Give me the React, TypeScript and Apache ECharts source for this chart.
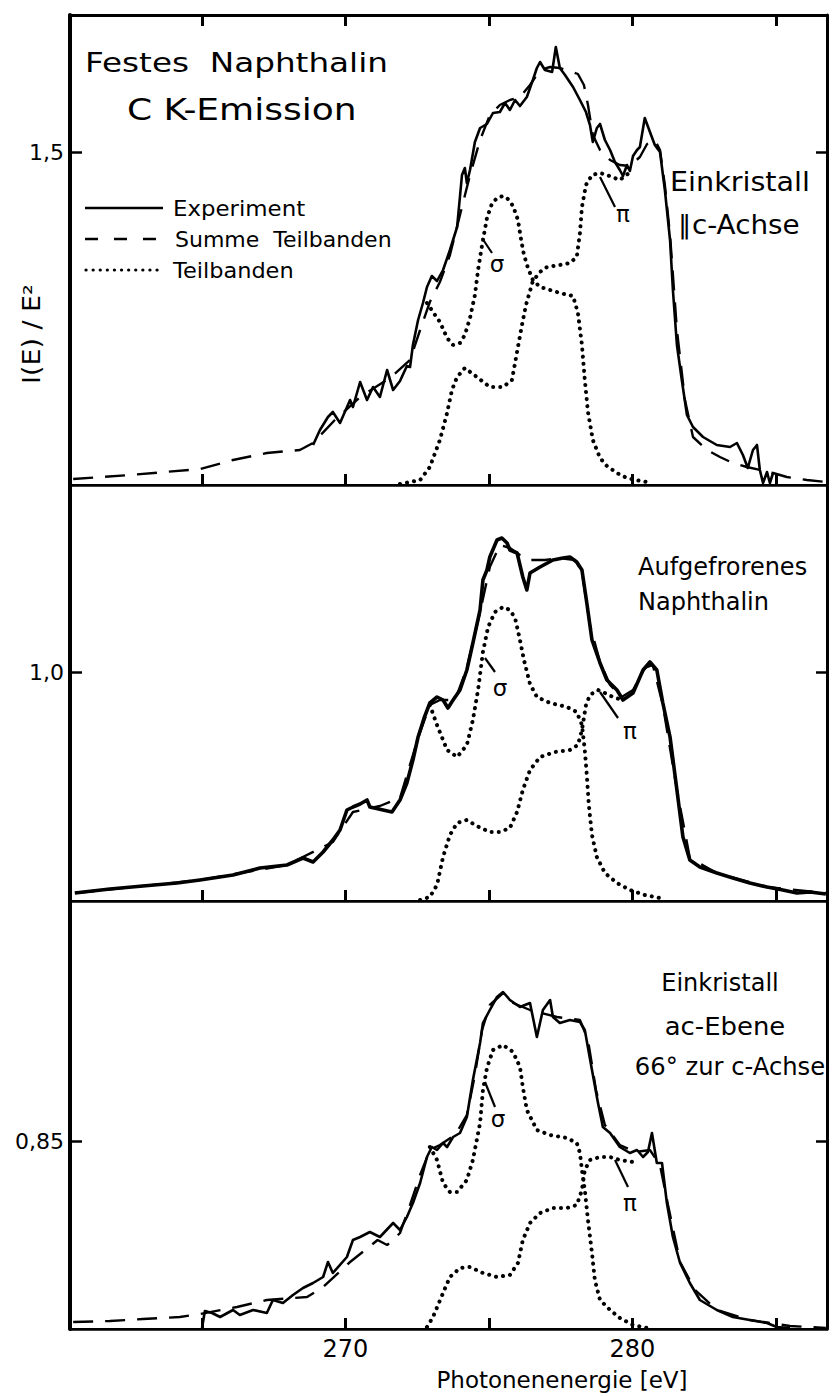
import React, { useEffect, useRef } from "react";
import * as echarts from "echarts";

// ---------- axes ----------
const E_MIN = 260.4;
const E_MAX = 286.78;
const X_TICKS = [265, 270, 275, 280, 285];
const X_LABELS = [270, 280];
const Y_TICK_VALUES = [1.5, 1.0, 0.85];
const Y_TICK_TEXTS = ["1,5", "1,0", "0,85"];
const Y_MIN = [1.167, 0.771, 0.662];
const Y_MAX = [1.637, 1.187, 1.09];

// ---------- panel 1: Einkristall || c-Achse ----------
const topExperiment = [
  [268.87,1.207],[269.11,1.222],[269.39,1.235],[269.56,1.240],[269.81,1.229],[270.16,1.252],[270.26,1.245],[270.51,1.270],[270.75,1.252],[270.96,1.265],[271.20,1.255],[271.45,1.282],[271.66,1.262],[271.90,1.271],[272.14,1.286],[272.25,1.285],[272.35,1.307],[272.53,1.332],[272.70,1.349],[272.84,1.365],[273.01,1.376],[273.19,1.371],[273.40,1.382],[273.64,1.402],[273.89,1.425],[274.06,1.477],[274.16,1.484],[274.23,1.469],[274.34,1.482],[274.51,1.510],[274.69,1.524],[274.93,1.528],[275.14,1.539],[275.38,1.540],[275.56,1.549],[275.73,1.542],[275.91,1.552],[276.08,1.546],[276.32,1.555],[276.53,1.572],[276.67,1.584],[276.78,1.590],[276.95,1.582],[277.20,1.580],[277.33,1.605],[277.47,1.584],[277.65,1.577],[277.93,1.565],[278.17,1.552],[278.38,1.540],[278.52,1.527],[278.62,1.510],[278.76,1.524],[278.87,1.528],[279.04,1.512],[279.22,1.502],[279.39,1.490],[279.56,1.482],[279.67,1.476],[279.81,1.487],[279.91,1.481],[280.02,1.496],[280.16,1.502],[280.26,1.505],[280.43,1.534],[280.61,1.520],[280.78,1.507],[280.96,1.500],[281.13,1.462],[281.31,1.412],[281.41,1.362],[281.55,1.307],[281.72,1.272],[281.90,1.237],[282.11,1.225],[282.46,1.215],[282.94,1.207],[283.40,1.205],[283.64,1.209],[283.85,1.197],[284.02,1.184],[284.20,1.202],[284.34,1.207],[284.44,1.182],[284.55,1.169],[284.69,1.180],[284.79,1.169],[284.90,1.179]
];
const topSum = [
  [260.51,1.173],[262.49,1.177],[264.93,1.183],[266.08,1.192],[267.26,1.199],[268.41,1.202],[268.87,1.209],[269.63,1.232],[270.51,1.255],[271.55,1.274],[272.25,1.292],[272.60,1.322],[272.94,1.350],[273.29,1.370],[273.64,1.397],[273.99,1.437],[274.34,1.477],[274.69,1.512],[275.03,1.537],[275.38,1.547],[275.73,1.552],[276.08,1.555],[276.43,1.567],[276.78,1.582],[277.13,1.585],[277.47,1.584],[277.82,1.581],[278.10,1.578],[278.31,1.567],[278.45,1.547],[278.62,1.517],[278.87,1.502],[279.22,1.492],[279.56,1.487],[279.91,1.486],[280.26,1.495],[280.51,1.508],[280.78,1.512],[280.96,1.502],[281.13,1.467],[281.31,1.417],[281.55,1.322],[281.83,1.252],[282.11,1.215],[282.60,1.202],[283.05,1.195],[283.50,1.189],[283.99,1.185],[284.90,1.179],[285.38,1.175],[286.08,1.172],[286.74,1.170]
];
const topSigma = [
  [272.84,1.349],[273.05,1.340],[273.29,1.330],[273.54,1.314],[273.75,1.307],[273.99,1.309],[274.16,1.317],[274.34,1.334],[274.51,1.357],[274.62,1.382],[274.76,1.407],[274.93,1.434],[275.10,1.448],[275.28,1.454],[275.49,1.456],[275.66,1.453],[275.84,1.446],[276.01,1.432],[276.11,1.414],[276.22,1.397],[276.36,1.384],[276.53,1.372],[276.78,1.365],[277.13,1.362],[277.47,1.359],[277.93,1.356],[278.10,1.339],[278.24,1.307],[278.34,1.272],[278.45,1.240],[278.62,1.212],[278.87,1.194],[279.11,1.186],[279.46,1.179],[279.81,1.174],[280.09,1.172],[280.51,1.170]
];
const topPi = [
  [271.90,1.168],[272.25,1.170],[272.60,1.172],[272.94,1.185],[273.29,1.212],[273.54,1.239],[273.71,1.262],[273.89,1.275],[274.16,1.284],[274.58,1.275],[275.03,1.265],[275.49,1.265],[275.80,1.272],[275.91,1.289],[276.01,1.305],[276.15,1.327],[276.29,1.347],[276.53,1.371],[276.78,1.380],[277.02,1.385],[277.47,1.387],[277.82,1.389],[278.06,1.395],[278.17,1.419],[278.24,1.445],[278.38,1.467],[278.59,1.477],[278.87,1.479],[279.11,1.477],[279.56,1.472],[280.02,1.482]
];

// ---------- panel 2: Aufgefrorenes Naphthalin ----------
const midExperiment = [
  [260.57,0.779],[261.79,0.783],[262.94,0.786],[264.13,0.789],[264.93,0.792],[266.08,0.797],[267.02,0.804],[267.96,0.807],[268.52,0.814],[268.87,0.810],[269.22,0.820],[269.56,0.832],[269.81,0.842],[270.05,0.862],[270.26,0.865],[270.51,0.868],[270.75,0.872],[270.85,0.865],[271.31,0.862],[271.62,0.860],[271.90,0.872],[272.14,0.889],[272.35,0.912],[272.53,0.935],[272.74,0.954],[272.94,0.969],[273.19,0.975],[273.40,0.972],[273.57,0.964],[273.75,0.972],[273.99,0.982],[274.23,1.002],[274.44,1.029],[274.69,1.062],[274.79,1.092],[274.93,1.102],[275.03,1.115],[275.28,1.132],[275.45,1.134],[275.63,1.129],[275.73,1.122],[275.98,1.119],[276.18,1.095],[276.32,1.082],[276.43,1.099],[276.78,1.105],[277.23,1.112],[277.58,1.114],[277.82,1.115],[278.06,1.110],[278.24,1.102],[278.41,1.069],[278.59,1.032],[278.87,1.009],[279.11,0.992],[279.46,0.982],[279.67,0.972],[280.02,0.979],[280.37,1.002],[280.61,1.010],[280.85,1.002],[281.06,0.969],[281.31,0.935],[281.55,0.882],[281.76,0.835],[282.00,0.812],[282.35,0.805],[282.94,0.799],[283.50,0.794],[284.09,0.789],[284.69,0.785],[285.24,0.782],[285.73,0.779],[286.19,0.780],[286.74,0.778]
];
const midSum = [
  [260.57,0.779],[264.93,0.792],[267.96,0.807],[269.56,0.830],[270.26,0.860],[271.20,0.866],[271.90,0.874],[272.53,0.934],[272.94,0.967],[273.29,0.972],[273.82,0.972],[274.23,1.004],[274.69,1.060],[275.03,1.105],[275.38,1.127],[275.73,1.124],[276.08,1.117],[276.43,1.112],[276.95,1.112],[277.47,1.114],[278.00,1.112],[278.24,1.100],[278.52,1.047],[278.87,1.010],[279.22,0.987],[279.63,0.975],[280.02,0.982],[280.43,1.004],[280.71,1.007],[281.06,0.967],[281.55,0.882],[282.00,0.814],[282.94,0.799],[284.69,0.785],[286.74,0.779]
];
const midSigma = [
  [272.94,0.967],[273.19,0.947],[273.54,0.922],[273.89,0.915],[274.23,0.927],[274.44,0.952],[274.62,0.982],[274.79,1.020],[274.97,1.045],[275.21,1.060],[275.49,1.065],[275.73,1.062],[275.91,1.054],[276.08,1.032],[276.22,1.012],[276.43,0.988],[276.67,0.975],[277.13,0.969],[277.72,0.965],[278.06,0.960],[278.24,0.947],[278.34,0.922],[278.41,0.897],[278.48,0.867],[278.59,0.837],[278.76,0.815],[279.04,0.799],[279.46,0.789],[279.91,0.782],[280.43,0.777],[280.96,0.774]
];
const midPi = [
  [272.60,0.772],[272.94,0.775],[273.19,0.787],[273.40,0.815],[273.64,0.837],[273.89,0.849],[274.23,0.852],[274.58,0.846],[275.03,0.840],[275.38,0.840],[275.73,0.844],[275.98,0.860],[276.18,0.882],[276.43,0.902],[276.78,0.915],[277.30,0.920],[277.82,0.922],[278.10,0.927],[278.24,0.942],[278.38,0.967],[278.52,0.977],[278.80,0.982],[279.04,0.979],[279.32,0.975],[279.63,0.972]
];

// ---------- panel 3: Einkristall ac-Ebene ----------
const botExperiment = [
  [265.00,0.663],[265.10,0.680],[265.35,0.678],[265.63,0.674],[266.08,0.681],[266.32,0.676],[266.78,0.681],[267.26,0.678],[267.47,0.691],[267.82,0.688],[268.17,0.696],[268.52,0.703],[268.87,0.708],[269.22,0.714],[269.39,0.729],[269.56,0.718],[270.05,0.734],[270.26,0.751],[270.51,0.754],[270.85,0.759],[271.20,0.754],[271.66,0.768],[271.90,0.761],[272.14,0.774],[272.35,0.788],[272.60,0.808],[272.84,0.834],[273.01,0.844],[273.19,0.841],[273.40,0.848],[273.54,0.844],[273.75,0.854],[273.99,0.858],[274.23,0.874],[274.44,0.911],[274.69,0.948],[274.79,0.968],[275.03,0.981],[275.28,0.994],[275.49,0.999],[275.73,0.991],[276.08,0.984],[276.43,0.988],[276.67,0.954],[276.88,0.981],[277.13,0.991],[277.23,0.974],[277.47,0.968],[277.82,0.971],[278.17,0.969],[278.34,0.961],[278.59,0.921],[278.80,0.888],[278.97,0.864],[279.22,0.858],[279.56,0.844],[279.91,0.838],[280.16,0.841],[280.37,0.834],[280.54,0.839],[280.68,0.858],[280.85,0.828],[281.03,0.828],[281.20,0.788],[281.41,0.754],[281.66,0.728],[282.00,0.708],[282.35,0.691],[282.94,0.681],[283.50,0.674],[284.09,0.671],[284.69,0.668],[285.03,0.664],[285.49,0.663]
];
const botSum = [
  [260.51,0.669],[261.79,0.670],[262.94,0.672],[264.23,0.674],[264.93,0.677],[266.22,0.684],[267.26,0.691],[268.17,0.693],[268.66,0.694],[269.22,0.704],[270.16,0.729],[271.12,0.751],[271.45,0.746],[271.66,0.751],[271.90,0.758],[272.25,0.786],[272.60,0.816],[272.94,0.841],[273.29,0.846],[273.82,0.856],[274.23,0.876],[274.51,0.916],[274.76,0.961],[275.03,0.986],[275.49,0.998],[275.84,0.988],[276.43,0.981],[277.37,0.974],[278.17,0.971],[278.45,0.951],[278.73,0.901],[279.04,0.866],[279.56,0.846],[280.09,0.839],[280.61,0.841],[280.96,0.826],[281.24,0.786],[281.66,0.729],[282.18,0.701],[282.94,0.681],[284.09,0.671],[285.49,0.665],[286.74,0.663]
];
const botSigma = [
  [272.94,0.844],[273.19,0.831],[273.40,0.808],[273.64,0.799],[273.89,0.799],[274.23,0.811],[274.44,0.831],[274.69,0.868],[274.79,0.901],[274.93,0.923],[275.14,0.941],[275.49,0.946],[275.84,0.939],[276.08,0.924],[276.18,0.904],[276.32,0.881],[276.67,0.861],[277.13,0.856],[277.72,0.853],[278.06,0.848],[278.17,0.838],[278.24,0.821],[278.34,0.801],[278.45,0.771],[278.59,0.738],[278.69,0.711],[278.87,0.691],[279.22,0.681],[279.56,0.673],[280.02,0.666],[280.51,0.663]
];
const botPi = [
  [272.84,0.664],[273.05,0.674],[273.40,0.698],[273.64,0.714],[273.99,0.723],[274.34,0.724],[274.79,0.718],[275.28,0.714],[275.73,0.716],[276.01,0.728],[276.18,0.751],[276.43,0.768],[276.78,0.778],[277.23,0.783],[277.72,0.783],[278.06,0.786],[278.24,0.801],[278.34,0.821],[278.52,0.831],[278.87,0.834],[279.22,0.834],[279.56,0.831],[280.02,0.829]
];

const PANELS = [
  { exp: topExperiment, sum: topSum, sigma: topSigma, pi: topPi, expWidth: 2.6 },
  { exp: midExperiment, sum: midSum, sigma: midSigma, pi: midPi, expWidth: 3.6 },
  { exp: botExperiment, sum: botSum, sigma: botSigma, pi: botPi, expWidth: 2.6 },
];

// layout (pixels)
const GRID_LEFT = 70;
const GRID_WIDTH = 757;
const GRID_TOPS = [15, 485, 901];
const GRID_HEIGHTS = [470, 416, 428];
const FONT = "DejaVu Sans";

function buildOption() {
  const grid = GRID_TOPS.map((t, i) => ({
    left: GRID_LEFT,
    top: t,
    width: GRID_WIDTH,
    height: GRID_HEIGHTS[i],
    show: true,
    borderColor: "#000",
    borderWidth: 2,
    backgroundColor: "transparent",
  }));

  const xAxis: any[] = GRID_TOPS.map((_, i) => ({
    type: "value",
    gridIndex: i,
    min: E_MIN,
    max: E_MAX,
    position: "bottom",
    axisLine: { show: true, lineStyle: { color: "#000", width: 2.5 } },
    axisTick: { show: true, inside: true, length: 11, customValues: X_TICKS, lineStyle: { color: "#000", width: 3 } },
    axisLabel: {
      show: i === 2,
      customValues: X_LABELS,
      color: "#000",
      fontSize: 24,
      fontFamily: FONT,
      margin: 8,
    },
    splitLine: { show: false },
  }));
  xAxis.push({
    type: "value",
    gridIndex: 0,
    min: E_MIN,
    max: E_MAX,
    position: "top",
    axisLine: { show: true, lineStyle: { color: "#000", width: 3 } },
    axisTick: { show: true, inside: true, length: 11, customValues: X_TICKS, lineStyle: { color: "#000", width: 3 } },
    axisLabel: { show: false },
    splitLine: { show: false },
  });

  const yAxis: any[] = [];
  GRID_TOPS.forEach((_, i) => {
    yAxis.push({
      type: "value",
      gridIndex: i,
      min: Y_MIN[i],
      max: Y_MAX[i],
      position: "left",
      axisLine: { show: true, lineStyle: { color: "#000", width: 4 } },
      axisTick: { show: true, inside: true, length: 12, customValues: [Y_TICK_VALUES[i]], lineStyle: { color: "#000", width: 2.5 } },
      axisLabel: {
        show: true,
        customValues: [Y_TICK_VALUES[i]],
        formatter: () => Y_TICK_TEXTS[i],
        color: "#000",
        fontSize: 22,
        fontFamily: FONT,
        margin: 6,
      },
      splitLine: { show: false },
    });
    yAxis.push({
      type: "value",
      gridIndex: i,
      min: Y_MIN[i],
      max: Y_MAX[i],
      position: "right",
      axisLine: { show: true, lineStyle: { color: "#000", width: 3 } },
      axisTick: { show: true, inside: true, length: 11, customValues: [Y_TICK_VALUES[i]], lineStyle: { color: "#000", width: 2.5 } },
      axisLabel: { show: false },
      splitLine: { show: false },
    });
  });

  const series: any[] = [];
  PANELS.forEach((p, i) => {
    const base = { type: "line", xAxisIndex: i, yAxisIndex: 2 * i, showSymbol: false, symbol: "none", silent: true };
    series.push({
      ...base,
      name: "Teilbanden σ " + i,
      data: p.sigma,
      z: 2,
      lineStyle: { color: "#000", width: 4, type: [0.1, 7], cap: "round" },
    });
    series.push({
      ...base,
      name: "Teilbanden π " + i,
      data: p.pi,
      z: 2,
      lineStyle: { color: "#000", width: 4, type: [0.1, 7], cap: "round" },
    });
    series.push({
      ...base,
      name: "Summe Teilbanden " + i,
      data: p.sum,
      z: 3,
      lineStyle: { color: "#000", width: 2.4, type: [20, 12] },
    });
    series.push({
      ...base,
      name: "Experiment " + i,
      data: p.exp,
      z: 4,
      lineStyle: { color: "#000", width: p.expWidth, join: "round" },
    });
  });

  const txt = (text: string, x: number, y: number, size: number, align = "left", sx = 1, extra: any = {}) => ({
    type: "text",
    x,
    y,
    z: 10,
    scaleX: sx,
    ...extra,
    style: { text, fill: "#000", fontSize: size, fontFamily: FONT, align, verticalAlign: "middle" },
  });
  const ln = (x1: number, y1: number, x2: number, y2: number, w = 2, dash: any = null, cap = "butt") => ({
    type: "line",
    z: 10,
    shape: { x1, y1, x2, y2 },
    style: { stroke: "#000", lineWidth: w, lineDash: dash, lineCap: cap },
  });

  const graphic = [
    txt("Festes  Naphthalin", 85, 63, 27, "left", 1.21),
    txt("C K-Emission", 127, 110, 30, "left", 1.2),
    ln(85, 208, 163, 208, 2.4),
    txt("Experiment", 173, 208, 22, "left", 1.04),
    ln(85, 239, 163, 239, 2.4, [13, 16]),
    txt("Summe  Teilbanden", 175, 239, 22, "left", 1.0),
    ln(86, 270, 163, 270, 3.2, [0.1, 7], "round"),
    txt("Teilbanden", 173, 270, 22, "left", 1.02),
    txt("Einkristall", 670, 182, 26, "left", 1.1),
    txt("∥c-Achse", 678, 225, 26, "left", 1.07),
    txt("Aufgefrorenes", 638, 567, 24, "left", 1.0),
    txt("Naphthalin", 638, 602, 24, "left", 1.0),
    txt("Einkristall", 720, 983, 24, "center", 1.0),
    txt("ac-Ebene", 725, 1027, 24, "center", 1.08),
    txt("66° zur c-Achse", 730, 1067, 24, "center", 1.01),
    // sigma / pi annotations
    ln(482, 238, 492, 253, 2.2),
    txt("σ", 497, 264, 23, "center"),
    ln(600, 177, 615, 207, 2.2),
    txt("π", 623, 214, 23, "center"),
    ln(485, 658, 495, 672, 2.2),
    txt("σ", 500, 688, 23, "center"),
    ln(600, 692, 618, 718, 2.2),
    txt("π", 630, 731, 23, "center"),
    ln(485, 1082, 495, 1107, 2.2),
    txt("σ", 498, 1119, 23, "center"),
    ln(615, 1160, 628, 1187, 2.2),
    txt("π", 630, 1203, 23, "center"),
    // axis titles
    txt("Photonenenergie [eV]", 562, 1380, 23, "center", 1.0),
    txt("I(E) / E²", 32, 334, 24, "center", 1.12, { rotation: Math.PI / 2 }),
  ];

  return {
    animation: false,
    backgroundColor: "#fff",
    grid,
    xAxis,
    yAxis,
    series,
    graphic,
  };
}

export default function App() {
  const ref = useRef<HTMLDivElement>(null);
  useEffect(() => {
    document.body.style.margin = "0";
    if (!ref.current) return;
    const chart = echarts.init(ref.current, null, { renderer: "svg" });
    chart.setOption(buildOption() as any);
    return () => chart.dispose();
  }, []);
  return (
    <div
      ref={ref}
      style={{ position: "absolute", left: 0, top: 0, width: 837, height: 1396, background: "#fff" }}
    />
  );
}
